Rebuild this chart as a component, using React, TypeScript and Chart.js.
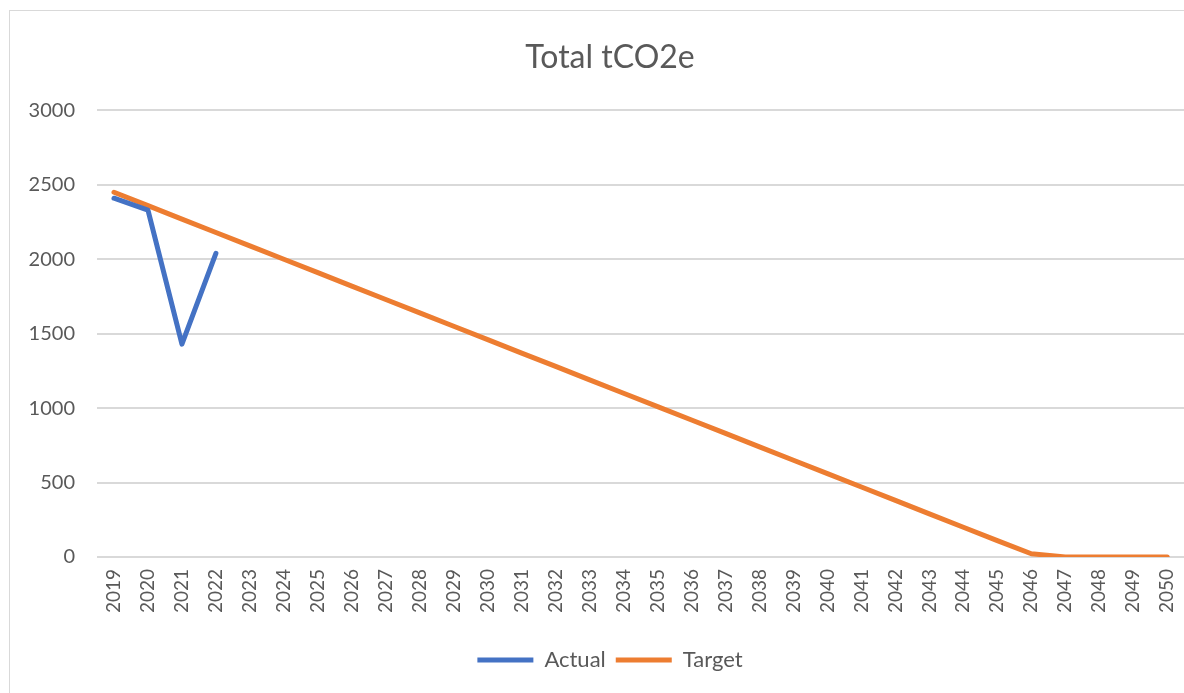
import React, { useEffect, useRef } from "react";
import { Chart, registerables } from "chart.js";

Chart.register(...registerables);

const years = [
  "2019", "2020", "2021", "2022", "2023", "2024", "2025", "2026", "2027", "2028",
  "2029", "2030", "2031", "2032", "2033", "2034", "2035", "2036", "2037", "2038",
  "2039", "2040", "2041", "2042", "2043", "2044", "2045", "2046", "2047", "2048",
  "2049", "2050",
];

const actual: (number | null)[] = [2410, 2330, 1430, 2040];

const target = [
  2450, 2360, 2270, 2180, 2090, 2000, 1910, 1820, 1730, 1640,
  1550, 1460, 1370, 1280, 1190, 1100, 1010, 920, 830, 740,
  650, 560, 470, 380, 290, 200, 110, 22, 0, 0,
  0, 0,
];

const yTicks = [0, 500, 1000, 1500, 2000, 2500, 3000];

const FONT = "Lato, 'Open Sans', sans-serif";
const TEXT = "#595959";
const GRID = "#d9d9d9";

export default function App() {
  const ref = useRef<HTMLCanvasElement | null>(null);

  useEffect(() => {
    if (!ref.current) return;
    const chart = new Chart(ref.current, {
      type: "line",
      data: {
        labels: years,
        datasets: [
          {
            label: "Actual",
            data: actual,
            borderColor: "#4472C4",
            backgroundColor: "#4472C4",
            borderWidth: 5,
            pointRadius: 0,
            borderCapStyle: "round",
            borderJoinStyle: "round",
            tension: 0,
          },
          {
            label: "Target",
            data: target,
            borderColor: "#ED7D31",
            backgroundColor: "#ED7D31",
            borderWidth: 5,
            pointRadius: 0,
            borderCapStyle: "round",
            borderJoinStyle: "round",
            tension: 0,
          },
        ],
      },
      options: {
        animation: false,
        responsive: false,
        maintainAspectRatio: false,
        layout: { padding: { left: 26, right: 0, top: 0, bottom: 12 } },
        plugins: {
          title: {
            display: true,
            text: "Total tCO2e",
            color: TEXT,
            font: { family: FONT, size: 32, weight: "normal" },
            padding: { top: 38, bottom: 34 },
          },
          legend: {
            position: "bottom",
            labels: {
              color: TEXT,
              font: { family: FONT, size: 22 },
              usePointStyle: true,
              pointStyle: "line",
              pointStyleWidth: 56,
              padding: 10,
            },
          },
          tooltip: { enabled: false },
        },
        scales: {
          x: {
            offset: true,
            grid: { display: false },
            border: { display: true, color: GRID, width: 1 },
            ticks: {
              color: TEXT,
              font: { family: FONT, size: 19 },
              maxRotation: 90,
              minRotation: 90,
              autoSkip: false,
              padding: 4,
            },
            afterFit: (s: any) => {
              s.height = 82;
            },
          },
          y: {
            min: 0,
            max: 3000,
            afterBuildTicks: (s: any) => {
              s.ticks = yTicks.map((v) => ({ value: v }));
            },
            grid: { color: GRID, lineWidth: 2, drawTicks: false },
            border: { display: false },
            ticks: {
              color: TEXT,
              font: { family: FONT, size: 20 },
              padding: 22,
              callback: (v: any) => String(v),
            },
            afterFit: (s: any) => {
              s.width = 71;
            },
          },
        },
      },
    });
    return () => chart.destroy();
  }, []);

  return (
    <div style={{ position: "fixed", left: 0, top: 0, width: 1184, height: 693, overflow: "hidden", background: "#fff" }}>
      <canvas ref={ref} width={1194} height={693} style={{ display: "block" }} />
      <div
        style={{
          position: "absolute",
          left: 9,
          top: 10,
          width: 1190,
          height: 700,
          border: "1px solid #d9d9d9",
          pointerEvents: "none",
        }}
      />
    </div>
  );
}
